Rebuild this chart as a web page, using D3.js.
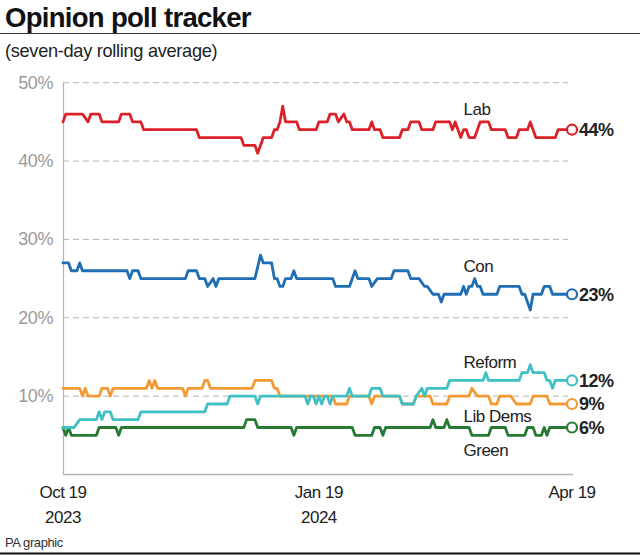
<!DOCTYPE html>
<html><head><meta charset="utf-8">
<script src="https://cdn.jsdelivr.net/npm/d3@7"></script>
<style>
body{margin:0;background:#fff}
svg{display:block}
text{font-family:"Liberation Sans",Arial,Helvetica,sans-serif}
</style>
</head><body>
<svg id="chart" width="640" height="555"></svg>
<script>
// ---- data (day offset from Oct 19 2023, value in %) ----
const startDate = new Date(2023, 9, 19);
const endDate = new Date(2024, 3, 19);
const xTickDates = [new Date(2023, 9, 19), new Date(2024, 0, 19), new Date(2024, 3, 19)];
const xTickLine1 = ["Oct 19", "Jan 19", "Apr 19"];
const xTickLine2 = ["2023", "2024", ""];
const yTicks = [10, 20, 30, 40, 50];

const seriesNames = ["Lab", "Con", "Reform", "Lib Dems", "Green"];
const seriesColors = ["#dc2228", "#1f6db3", "#3fc0c4", "#f39a35", "#277a34"];

const lab = [[0,45],[1,46],[7,46],[9,45],[10,46],[13,46],[14,45],[20,45],[21,46],[24,46],[25,45],[28,45],[29,44],[48,44],[49,43],[64,43],[65,42],[69,42],[70,41],[72,43],[75,43],[76,44],[77,44],[78,45],[79,47],[80,45],[84,45],[85,44],[91,44],[92,45],[95,45],[96,46],[98,46],[99,45],[101,46],[102,45],[103,45],[104,44],[110,44],[111,45],[112,44],[114,44],[115,43],[121,43],[122,44],[124,44],[125,45],[128,45],[129,44],[133,44],[134,45],[139,45],[140,44],[141,45],[142,44],[143,43],[144,44],[145,44],[146,43],[148,43],[149,44],[150,45],[153,45],[154,44],[159,44],[160,43],[163,43],[164,44],[167,44],[168,45],[169,44],[170,43],[177,43],[178,44],[183,44]];

const con = [[0,27],[2,27],[3,26],[5,26],[6,27],[7,26],[23,26],[24,25],[25,26],[27,26],[28,25],[44,25],[45,26],[48,26],[49,25],[51,25],[52,24],[54,25],[55,24],[56,25],[69,25],[71,28],[72,27],[75,27],[76,25],[77,25],[78,24],[79,24],[80,25],[82,25],[83,26],[84,25],[97,25],[98,24],[103,24],[105,26],[106,25],[110,25],[111,24],[113,25],[118,25],[119,26],[124,26],[125,25],[128,25],[130,24],[131,24],[133,23],[135,23],[136,22],[137,23],[143,23],[144,24],[145,23],[146,24],[147,24],[148,25],[149,24],[150,24],[151,23],[156,23],[157,24],[164,24],[165,23],[166,23],[168,21],[169,23],[172,23],[173,24],[175,24],[176,23],[183,23]];

const reform = [[0,6],[4,6],[6,7],[12,7],[13,8],[14,7],[15,8],[17,8],[18,7],[27,7],[28,8],[51,8],[52,9],[59,9],[60,10],[69,10],[70,9],[71,10],[87,10],[88,9],[89,10],[90,10],[91,9],[92,10],[93,9],[94,10],[95,10],[96,9],[97,10],[102,10],[103,11],[104,10],[110,10],[111,11],[114,11],[115,10],[121,10],[122,9],[126,9],[127,10],[129,11],[130,10],[131,11],[138,11],[139,12],[151,12],[152,13],[153,12],[164,12],[165,13],[167,13],[168,14],[169,13],[173,13],[174,12],[175,12],[176,11],[177,12],[183,12]];

const libDems = [[0,11],[6,11],[7,10],[8,11],[9,10],[13,10],[14,11],[16,11],[17,10],[18,11],[30,11],[31,12],[32,11],[33,12],[34,11],[43,11],[44,10],[45,11],[50,11],[51,12],[52,12],[53,11],[68,11],[69,12],[75,12],[76,11],[77,11],[78,10],[97,10],[98,9],[102,9],[103,10],[110,10],[111,9],[112,10],[121,10],[122,9],[126,9],[127,10],[132,10],[133,9],[138,9],[139,10],[146,10],[147,11],[149,10],[153,10],[154,9],[156,9],[157,10],[161,10],[163,9],[168,9],[169,10],[174,10],[175,9],[183,9]];

const green = [[0,6],[1,5],[2,6],[3,5],[12,5],[13,6],[19,6],[20,5],[21,6],[65,6],[66,7],[69,7],[70,6],[82,6],[83,5],[84,6],[104,6],[105,5],[111,5],[112,6],[114,6],[115,5],[116,6],[132,6],[133,7],[134,6],[137,6],[138,7],[139,6],[146,6],[147,5],[153,5],[154,6],[159,6],[160,5],[166,5],[167,6],[169,6],[170,5],[172,5],[173,6],[174,5],[175,6],[183,6]];

const seriesData = [lab, con, reform, libDems, green];
// label anchors: [day offset, value]
const labelAnchors = [[144.5, 45.9], [144.5, 25.9], [144.5, 13.6], [144.5, 6.7], [144.5, 2.4]];

// ---- chart ----
const svg = d3.select("#chart");
const x = d3.scaleTime().domain([startDate, endDate]).range([63, 572]);
const y = d3.scaleLinear().domain([0, 50]).range([474.5, 82.7]);
const dayDate = d => d3.timeDay.offset(startDate, d);

// title
svg.append("text").attr("x", 5).attr("y", 27).attr("font-size", 27.5).attr("font-weight", "bold")
  .attr("letter-spacing", "-0.7px").attr("fill", "#111").text("Opinion poll tracker");
svg.append("line").attr("x1", 0).attr("x2", 640).attr("y1", 33.5).attr("y2", 33.5)
  .attr("stroke", "#333").attr("stroke-width", 1.2);
svg.append("text").attr("x", 5).attr("y", 57).attr("font-size", 18.2).attr("letter-spacing", "-0.3px")
  .attr("fill", "#222").text("(seven-day rolling average)");

// grid
const grid = svg.append("g");
grid.selectAll("line").data(yTicks).join("line")
  .attr("x1", 63).attr("x2", 568).attr("y1", d => y(d)).attr("y2", d => y(d))
  .attr("stroke", "#b5b5b5").attr("stroke-width", 1).attr("stroke-dasharray", "6,4");
grid.selectAll("text").data(yTicks).join("text")
  .attr("x", 53).attr("y", d => y(d) + 6).attr("text-anchor", "end")
  .attr("font-size", 18).attr("fill", "#9a9a9a").attr("letter-spacing", "-0.4px").text(d => d + "%");
// axes lines
svg.append("line").attr("x1", 63.5).attr("x2", 63.5).attr("y1", y(50)).attr("y2", y(0))
  .attr("stroke", "#b5b5b5").attr("stroke-width", 1.2);
svg.append("line").attr("x1", 63).attr("x2", 573).attr("y1", y(0)).attr("y2", y(0))
  .attr("stroke", "#b5b5b5").attr("stroke-width", 1.5);

// x labels
const xl = svg.append("g");
xTickDates.forEach((dt, i) => {
  xl.append("text").attr("x", x(dt)).attr("y", 498).attr("text-anchor", "middle")
    .attr("font-size", 17).attr("letter-spacing", "-0.5px").attr("fill", "#222").text(xTickLine1[i]);
  if (xTickLine2[i]) xl.append("text").attr("x", x(dt)).attr("y", 523).attr("text-anchor", "middle")
    .attr("font-size", 17).attr("letter-spacing", "-0.5px").attr("fill", "#222").text(xTickLine2[i]);
});

// lines
const line = d3.line().x(d => x(dayDate(d[0]))).y(d => y(d[1]));
const drawOrder = [4, 3, 2, 1, 0];
drawOrder.forEach(i => {
  svg.append("path").datum(seriesData[i]).attr("d", line).attr("fill", "none")
    .attr("stroke", seriesColors[i]).attr("stroke-width", 2.8)
    .attr("stroke-linejoin", "round").attr("stroke-linecap", "round");
});
drawOrder.forEach(i => {
  const last = seriesData[i][seriesData[i].length - 1];
  svg.append("circle").attr("cx", x(dayDate(last[0]))).attr("cy", y(last[1])).attr("r", 5)
    .attr("fill", "#fff").attr("stroke", seriesColors[i]).attr("stroke-width", 2.2);
  svg.append("text").attr("x", x(dayDate(last[0])) + 7).attr("y", y(last[1]) + 6.5)
    .attr("font-size", 18).attr("font-weight", "bold").attr("fill", "#222")
    .attr("letter-spacing", "-0.5px").text(last[1] + "%");
  const a = labelAnchors[i];
  svg.append("text").attr("x", x(dayDate(a[0]))).attr("y", y(a[1]))
    .attr("font-size", 17).attr("fill", "#222").attr("letter-spacing", "-0.5px").text(seriesNames[i]);
});

// footer
svg.append("text").attr("x", 5).attr("y", 547).attr("font-size", 13).attr("letter-spacing", "-0.4px")
  .attr("fill", "#333").text("PA graphic");
svg.append("line").attr("x1", 0).attr("x2", 640).attr("y1", 553.5).attr("y2", 553.5)
  .attr("stroke", "#111").attr("stroke-width", 2);
</script>
</body></html>
